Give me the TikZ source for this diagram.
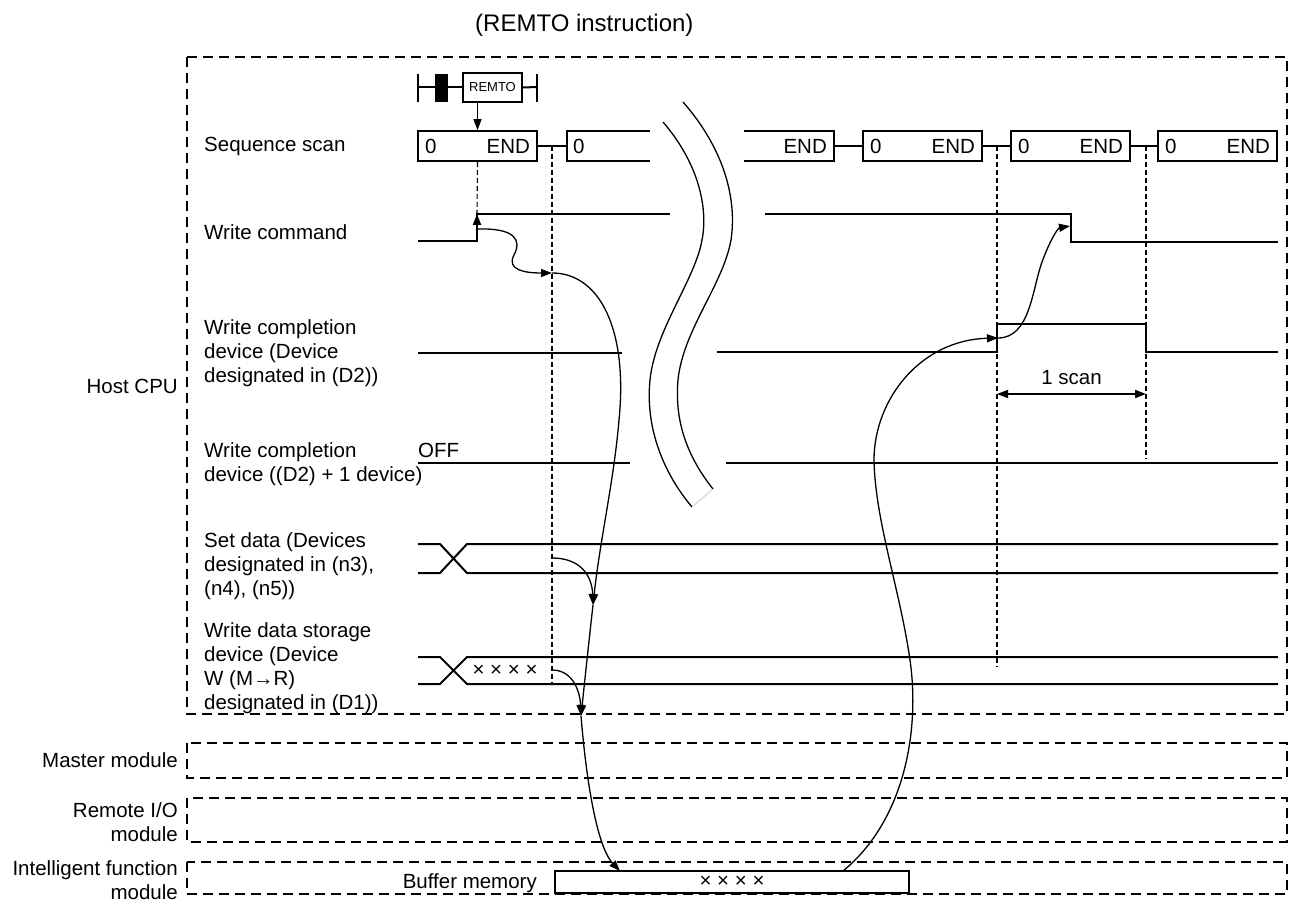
\documentclass[tikz,border=0pt]{standalone}
\usepackage{fontspec}
\setmainfont{Liberation Sans}
\usetikzlibrary{arrows.meta}

\begin{document}
\begin{tikzpicture}[x=1pt,y=-1pt,font=\fontsize{20.5}{24}\selectfont,
  sig/.style={line width=2pt},
  modbox/.style={line width=2.4pt,dash pattern=on 10pt off 6pt},
  guide/.style={line width=1.1pt,dash pattern=on 5pt off 3pt},
  flow/.style={line width=1.3pt,-{Triangle[length=11pt,width=8pt]}},
  curve/.style={line width=1.3pt},
  scanbox/.style={draw,line width=1.6pt,minimum height=30pt,text width=105pt,inner xsep=7pt,inner ysep=0pt},
  lbl/.style={anchor=west,align=left,inner sep=0pt},
  mlbl/.style={anchor=east,align=right,inner sep=0pt}]
 \useasboundingbox (0,0) rectangle (1296,909);
 \node[anchor=west,inner sep=0pt,font=\fontsize{24}{28}\selectfont] (title) at (475,25) {(REMTO instruction)};
 % module frames
 \draw[modbox] (187,57) rectangle (1287,714);
 \draw[modbox] (187,743) rectangle (1287,778);
 \draw[modbox] (187,798) rectangle (1287,842);
 \draw[modbox] (187,862) rectangle (1287,894);
 \node[mlbl] (host) at (178,386) {Host CPU};
 \node[mlbl] (master) at (178,760) {Master module};
 \node[mlbl] (remote) at (178,822) {Remote I/O\\module};
 \node[mlbl] (intel) at (178,880) {Intelligent function\\module};
 % signal names
 \node[lbl] (seqlbl) at (204,146) {Sequence scan};
 \node[lbl] (cmdlbl) at (204,232) {Write command};
 \node[lbl] (donelbl) at (204,353) {Write completion\\device (Device\\designated in (D2))};
 \node[lbl] (done1lbl) at (204,464) {Write completion\\device ((D2) + 1 device)};
 \node[lbl] (setlbl) at (204,566) {Set data (Devices\\designated in (n3),\\(n4), (n5))};
 \node[lbl] (storelbl) at (204,668) {Write data storage\\device (Device\\W (M→R)\\designated in (D1))};
 % ladder rung
 \draw[sig] (418,74) -- (418,102);
 \draw[sig] (418,87) -- (435,87);
 \fill (435,74) rectangle (448,102);
 \draw[sig] (448,87) -- (463,87);
 \node[draw,line width=1.4pt,minimum width=59pt,minimum height=29pt,inner sep=0pt,font=\fontsize{13}{15}\selectfont] (remto) at (492.5,87.5) {REMTO};
 \coordinate (rbar) at (537,87);
 \draw[sig] (remto.east) -- (rbar);
 \draw[sig] (537,74) -- (537,102);
 % sequence scan
 \foreach \n/\x in {s1/477.5,s4/922.5,s5/1070.5,s6/1217.5}
   {\node[scanbox] (\n) at (\x,146) {0\hfill END};}
 \draw[line width=1.6pt] (650,131) -- (567,131) -- (567,161) -- (650,161);
 \draw[line width=1.6pt] (744,131) -- (834,131) -- (834,161) -- (744,161);
 \coordinate (s2w) at (567,146);
 \coordinate (s3e) at (834,146);
 \node[anchor=west,inner sep=0pt] (s2) at (573,146) {0};
 \node[anchor=east,inner sep=0pt] (s3) at (827,146) {END};
 \draw[sig] (s1.east) -- (s2w);
 \draw[sig] (s3e) -- (s4.west);
 \draw[sig] (s4.east) -- (s5.west);
 \draw[sig] (s5.east) -- (s6.west);
 \draw[flow] (s1.north |- remto.south) -- (s1.north);
 % break marks
 \draw[curve] (663,122) .. controls (700,165) and (708,210) .. (702,240)
   .. controls (695,280) and (655,330) .. (650,380)
   .. controls (645,430) and (665,475) .. (692,507);
 \draw[curve] (683,102) .. controls (725,150) and (737,200) .. (731,240)
   .. controls (723,285) and (683,330) .. (678,380)
   .. controls (674,425) and (690,460) .. (713,489);
 \draw[gray!50,line width=0.6pt] (692,507) -- (713,489);
 % write command
 \draw[sig] (418,241) -- (477,241) -- (477,214) -- (670,214);
 \draw[sig] (765,214) -- (1071,214) -- (1071,242) -- (1278,242);
 \coordinate (wup) at (477,214);
 \draw[sig,-{Triangle[length=11pt,width=8pt]}] (477,236) -- (wup);
 % write completion
 \draw[sig] (418,353) -- (622,353);
 \draw[sig] (717,352) -- (997,352) -- (997,324) -- (1146,324) -- (1146,352) -- (1278,352);
 \draw[sig] (418,463) -- (630,463);
 \draw[sig] (726,463) -- (1278,463);
 \node[anchor=base west,inner sep=0pt] (off) at (418,457) {OFF};
 % data buses
 \foreach \t/\b in {544/573,657/684}{
   \draw[sig] (418,\t) -- (440,\t) -- (467,\b) -- (1278,\b);
   \draw[sig] (418,\b) -- (440,\b) -- (467,\t) -- (1278,\t);}
 \node[inner sep=0pt] (xx) at (505,671) {× × × ×};
 % timing guides
 \draw[guide] (s1.south) -- (wup);
 \draw[guide] (552,146) -- (552,684);
 \draw[guide] (997,146) -- (997,667);
 \draw[guide] (1146,146) -- (1146,459);
 \coordinate (pa) at (997,394);
 \coordinate (pb) at (1146,394);
 \draw[line width=1.6pt,{Triangle[length=11pt,width=8pt]}-{Triangle[length=11pt,width=8pt]}] (pa) -- (pb)
   node[midway,above=9pt,inner sep=0pt] (scan) {1 scan};
 % buffer memory
 \node[draw,line width=1.3pt,minimum width=354pt,minimum height=22pt,inner sep=0pt] (buf) at (732,882) {× × × ×};
 \node[anchor=east,inner sep=0pt] (buflbl) at (537,883) {Buffer memory};
 % flow of the write
 \coordinate (wedge) at (478,229);
 \coordinate (g1) at (552,273);
 \coordinate (g2) at (552,558);
 \coordinate (g3) at (552,670);
 \coordinate (tipS) at (593,605);
 \coordinate (tipH) at (581,716);
 \coordinate (bufin) at (620,871);
 \coordinate (bufout) at (843,871);
 \coordinate (done) at (998,338);
 \coordinate (cmdoff) at (1070,226);
 \draw[flow] (wedge) .. controls (515,228) and (522,240) .. (514,255)
   .. controls (506,270) and (525,273) .. (g1);
 \draw[flow] (g1) .. controls (600,273) and (628,330) .. (619,420)
   .. controls (614,480) and (600,540) .. (tipS);
 \draw[flow] (g2) .. controls (580,558) and (592,575) .. (tipS);
 \draw[flow] (tipS) .. controls (588,650) .. (tipH);
 \draw[flow] (g3) .. controls (572,670) and (580,690) .. (tipH);
 \draw[flow] (tipH) .. controls (588,800) and (600,850) .. (bufin);
 \draw[flow] (bufout) .. controls (905,820) and (920,730) .. (910,660)
   .. controls (900,590) and (875,520) .. (874,460)
   .. controls (874,400) and (920,340) .. (done);
 \draw[flow] (done) .. controls (1030,338) and (1032,290) .. (1042,262)
   .. controls (1050,240) and (1058,228) .. (cmdoff);
\end{tikzpicture}
\end{document}
